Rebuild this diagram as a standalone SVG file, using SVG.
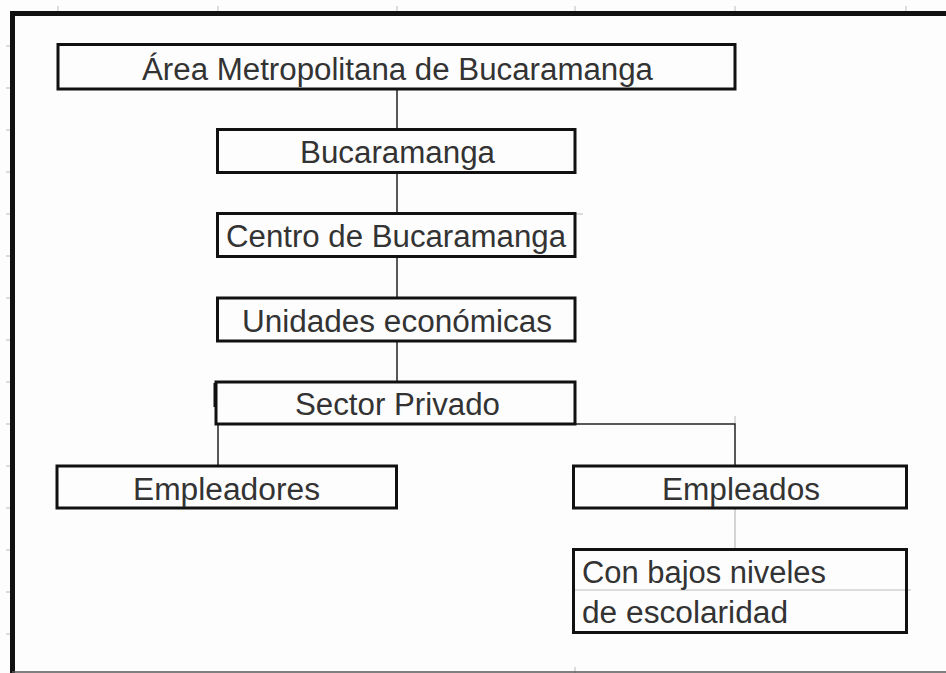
<svg xmlns="http://www.w3.org/2000/svg" width="946" height="673" viewBox="0 0 946 673">
<style>
.box{fill:none;stroke:#111;stroke-width:3}
.t{font-family:"Liberation Sans",Arial,sans-serif;font-size:31px;fill:#333}
.c{fill:none;stroke:#222;stroke-width:1.5}
.g{fill:none;stroke:#bbb;stroke-width:1}
</style>
<rect x="0" y="0" width="946" height="673" fill="#fdfdfd"/>
<g id="grid">
<path class="g" d="M58 6V12M218 6V12M397 6V12M575 6V12M735 6V12M906 6V12M6 46H10M6 88H10M6 130H10M6 172H10M6 214H10M6 256H10M6 298H10M6 340H10M6 382H10M6 424H10M6 466H10M6 508H10M6 550H10M6 592H10M6 634H10M575 667V673M575 214H583M735 416V424M907 590H911"/>
</g>
<g id="frame">
<path d="M12.5 673V13.5H946" fill="none" stroke="#111" stroke-width="5"/>
<path d="M12 672H946" fill="none" stroke="#555" stroke-width="1.5"/>
</g>
<g id="connectors">
<path class="c" d="M397 89V129M397 173V213M397 257V298M397 341V382"/>
<path class="c" d="M218 424V466M218 424H735V466"/>
<path d="M735 508V549" fill="none" stroke="#bbb" stroke-width="1.2"/>
</g>
<g id="n1">
<rect class="box" x="58" y="44.5" width="677" height="44.5" stroke-width="2.5"/>
<text class="t" x="142" y="80" textLength="511" lengthAdjust="spacingAndGlyphs">Área Metropolitana de Bucaramanga</text>
</g>
<g id="n2">
<rect class="box" x="217.5" y="129.5" width="357.5" height="43"/>
<text class="t" x="300" y="163" textLength="195" lengthAdjust="spacingAndGlyphs">Bucaramanga</text>
</g>
<g id="n3">
<rect class="box" x="217.5" y="213.5" width="357.5" height="43"/>
<text class="t" x="226" y="247" textLength="340" lengthAdjust="spacingAndGlyphs">Centro de Bucaramanga</text>
</g>
<g id="n4">
<rect class="box" x="217.5" y="298" width="357.5" height="43"/>
<text class="t" x="242" y="332" textLength="310" lengthAdjust="spacingAndGlyphs">Unidades económicas</text>
</g>
<g id="n5">
<rect class="box" x="216" y="382" width="359" height="42"/>
<path d="M215 383V407" stroke="#111" stroke-width="3"/>
<text class="t" x="295" y="415" textLength="205" lengthAdjust="spacingAndGlyphs">Sector Privado</text>
</g>
<g id="n6">
<rect class="box" x="57" y="466" width="339.5" height="42"/>
<text class="t" x="133" y="500" textLength="187" lengthAdjust="spacingAndGlyphs">Empleadores</text>
</g>
<g id="n7">
<rect class="box" x="573.5" y="466" width="333" height="42"/>
<text class="t" x="662" y="500" textLength="158" lengthAdjust="spacingAndGlyphs">Empleados</text>
</g>
<g id="n8">
<path d="M573 590H907" fill="none" stroke="#bbb" stroke-width="1"/>
<rect class="box" x="573.5" y="549.5" width="333" height="83"/>
<text class="t" x="582" y="583" textLength="244" lengthAdjust="spacingAndGlyphs">Con bajos niveles</text>
<text class="t" x="582" y="623" textLength="206" lengthAdjust="spacingAndGlyphs">de escolaridad</text>
</g>
</svg>
